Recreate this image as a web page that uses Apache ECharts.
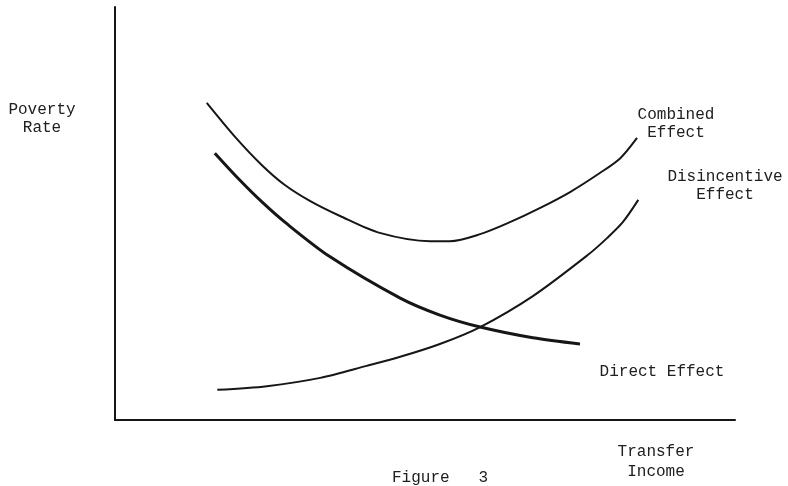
<!DOCTYPE html>
<html>
<head>
<meta charset="utf-8">
<script src="https://cdn.jsdelivr.net/npm/echarts@6/dist/echarts.min.js"></script>
<style>html,body{margin:0;padding:0;background:#fff;}#c{width:788px;height:486px;}</style>
</head>
<body>
<div id="c"></div>
<script>
// Abstract units: transfer income (x) 0-100, poverty rate (y) 0-100
const combinedX = [14.8, 19.4, 23.7, 27.4, 31.5, 36.3, 42.7, 50.8, 54.0, 58.9, 63.7, 68.5, 73.4, 78.2, 81.5, 84.2];
const combinedY = [76.8, 68.5, 61.7, 56.9, 53.0, 49.4, 45.3, 43.3, 43.3, 45.0, 47.9, 51.3, 55.2, 59.8, 63.4, 68.3];
const directX = [16.1, 19.8, 23.7, 27.4, 34.7, 46.0, 52.4, 58.9, 67.4, 75.0];
const directY = [64.6, 58.6, 52.8, 47.9, 39.5, 29.5, 25.4, 22.5, 19.9, 18.4];
const disincX = [16.5, 24.5, 33.1, 40.6, 46.0, 52.4, 58.9, 67.4, 76.3, 79.4, 81.9, 84.4];
const disincY = [7.3, 8.2, 10.2, 13.1, 15.3, 18.4, 22.5, 30.0, 40.0, 44.1, 47.9, 53.3];

const yAxisName = "Poverty\nRate";
const xAxisName = "Transfer\nIncome";
const combinedLabel = "Combined\nEffect";
const disincLabel = "Disincentive\nEffect";
const directLabel = "Direct Effect";
const figureLabel = "Figure   3";

const zip = (xs, ys) => xs.map((x, i) => [x, ys[i]]);
const ink = '#161616';
const font = "'Liberation Mono', 'DejaVu Sans Mono', monospace";

function txt(text, x, y, align, lh) {
  return {
    type: 'text', x: x, y: y,
    style: { text: text, fill: '#202020', font: '16px ' + font, textAlign: align || 'center', textVerticalAlign: 'middle', lineHeight: lh || 18 }
  };
}

const chart = echarts.init(document.getElementById('c'), null, { renderer: 'canvas' });
chart.setOption({
  backgroundColor: '#ffffff',
  animation: false,
  grid: { left: 115, right: 53, top: 7, bottom: 66 },
  xAxis: {
    type: 'value', min: 0, max: 100,
    axisLine: { show: true, onZero: false, lineStyle: { color: ink, width: 2 } },
    axisTick: { show: false }, axisLabel: { show: false }, splitLine: { show: false }
  },
  yAxis: {
    type: 'value', min: 0, max: 100,
    axisLine: { show: true, onZero: false, lineStyle: { color: ink, width: 2 } },
    axisTick: { show: false }, axisLabel: { show: false }, splitLine: { show: false }
  },
  series: [
    { name: 'Combined Effect', type: 'line', smooth: 0.3, showSymbol: false, data: zip(combinedX, combinedY), lineStyle: { color: ink, width: 2 } },
    { name: 'Direct Effect', type: 'line', smooth: 0.3, showSymbol: false, data: zip(directX, directY), lineStyle: { color: ink, width: 3 } },
    { name: 'Disincentive Effect', type: 'line', smooth: 0.3, showSymbol: false, data: zip(disincX, disincY), lineStyle: { color: ink, width: 2 } }
  ],
  graphic: [
    txt(yAxisName, 42, 119),
    txt(combinedLabel, 676, 124),
    txt(disincLabel, 725, 186),
    txt(directLabel, 662, 372),
    txt(xAxisName, 656, 462, 'center', 20),
    txt(figureLabel, 392, 478, 'left')
  ]
});
</script>
</body>
</html>
